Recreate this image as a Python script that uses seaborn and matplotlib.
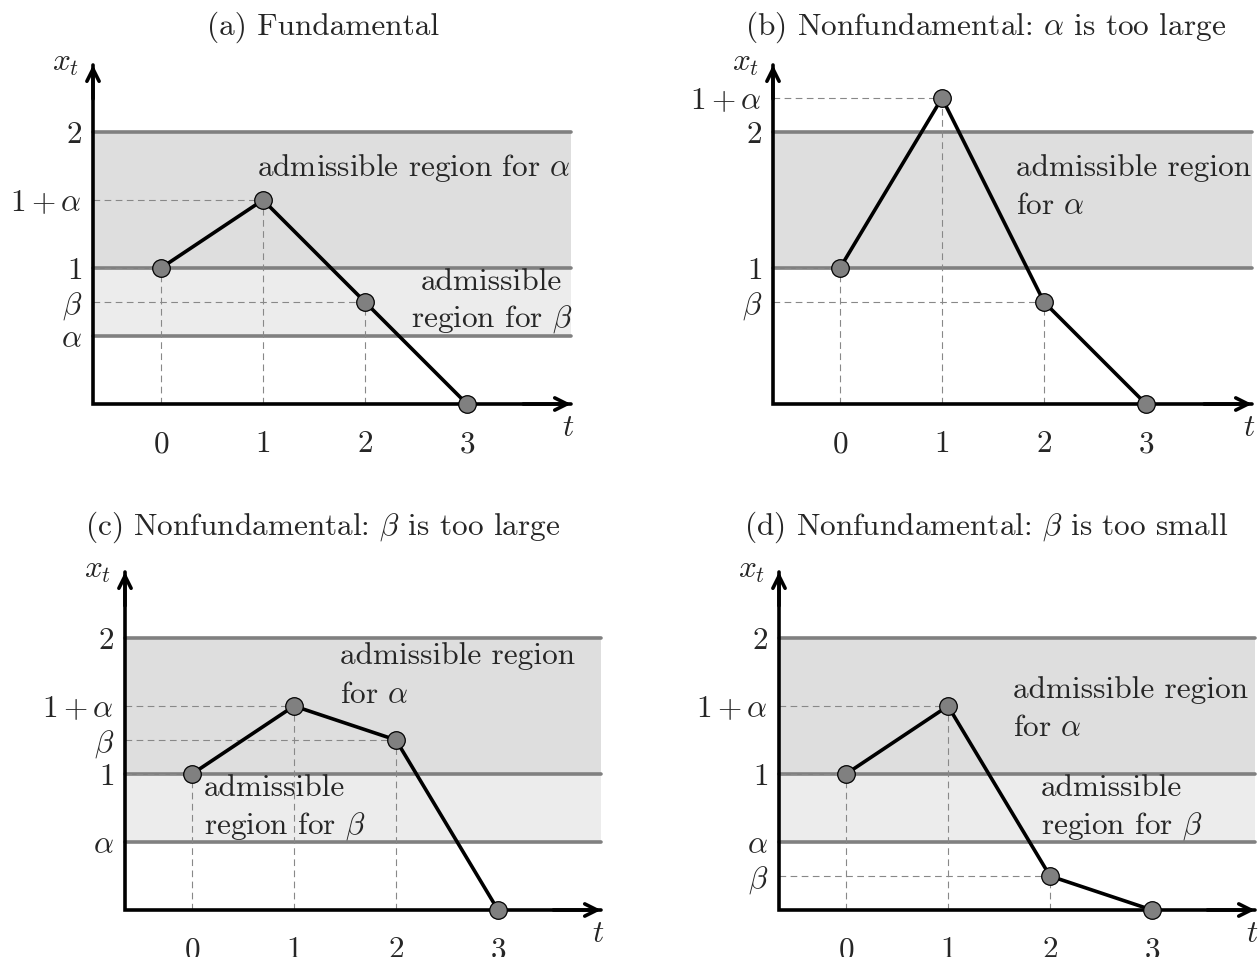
import matplotlib.pyplot as plt
import seaborn as sns

sns.set_theme(style="white")
plt.rcParams['font.family'] = 'serif'
plt.rcParams['font.serif'] = ['cmr10']
plt.rcParams['mathtext.fontset'] = 'cm'
plt.rcParams['axes.unicode_minus'] = False
plt.rcParams['axes.formatter.use_mathtext'] = True

#  Data 
t = [0, 1, 2, 3]

x_a = [1.0, 1.5, 0.75, 0.0]     # alpha = 0.5, beta = 0.75
x_b = [1.0, 2.25, 0.75, 0.0]    # alpha = 1.25, beta = 0.75
x_c = [1.0, 1.5, 1.25, 0.0]     # alpha = 0.5, beta = 1.25
x_d = [1.0, 1.5, 0.25, 0.0]     # alpha = 0.5, beta = 0.25

alphas = [0.5, 1.25, 0.5, 0.5]

yticks_a = [0.5, 0.75, 1, 1.5, 2]
ylabels_a = [r'$\alpha$', r'$\beta$', r'$1$', r'$1+\alpha$', r'$2$']
yticks_b = [0.75, 1, 2, 2.25]
ylabels_b = [r'$\beta$', r'$1$', r'$2$', r'$1+\alpha$']
yticks_c = [0.5, 1, 1.25, 1.5, 2]
ylabels_c = [r'$\alpha$', r'$1$', r'$\beta$', r'$1+\alpha$', r'$2$']
yticks_d = [0.25, 0.5, 1, 1.5, 2]
ylabels_d = [r'$\beta$', r'$\alpha$', r'$1$', r'$1+\alpha$', r'$2$']

titles = ['(a) Fundamental',
          r'(b) Nonfundamental: $\alpha$ is too large',
          r'(c) Nonfundamental: $\beta$ is too large',
          r'(d) Nonfundamental: $\beta$ is too small']

W, H = 1259, 957
FS = 22.5
DARK, LIGHT, BAND_LINE = '#dedede', '#ececec', '#808080'

fig = plt.figure(figsize=(W / 100, H / 100), dpi=100)


def make_axes(ox, oy, t0, right, top, ux=102, uy=136):
    ax = fig.add_axes([ox / W, 1 - oy / H, (right - ox) / W, (oy - top) / H])
    ax.set_xlim((ox - t0) / ux, (right - t0) / ux)
    ax.set_ylim(0, (oy - top) / uy)
    return ax


def draw_panel(ax, vals, alpha, yticks, ylabels):
    ax.set_facecolor('none')
    for s in ax.spines.values():
        s.set_visible(False)
    # admissible regions
    ax.axhspan(1, 2, color=DARK, lw=0, zorder=0)
    lines = [1, 2]
    if alpha < 1:
        ax.axhspan(alpha, 1, color=LIGHT, lw=0, zorder=0)
        lines.append(alpha)
    for y in lines:
        ax.axhline(y, color=BAND_LINE, lw=2.6, zorder=1, clip_on=False)
    # guide lines
    x0 = ax.get_xlim()[0]
    for ti, v in zip(t, vals):
        if v > 0:
            ax.plot([x0, ti], [v, v], color='#888888', lw=0.8, ls=(0, (6, 4)), zorder=2)
            ax.plot([ti, ti], [0, v], color='#888888', lw=0.8, ls=(0, (6, 4)), zorder=2)
    # axes with arrows
    ax.plot([0, 0, 1], [1, 0, 0], transform=ax.transAxes, color='black', lw=2.6,
            solid_joinstyle='miter', clip_on=False, zorder=3)
    for tip in [(1, 0), (0, 1)]:
        ax.annotate('', xy=tip, xytext=(tip[0] * 0.9, tip[1] * 0.9), xycoords='axes fraction',
                    arrowprops=dict(arrowstyle='->', lw=2.6, color='black', mutation_scale=22,
                                    shrinkA=0, shrinkB=0), zorder=3)
    ax.annotate('$t$', xy=(1, 0), xycoords='axes fraction', xytext=(-2, -17),
                textcoords='offset points', ha='center', va='center', fontsize=FS)
    ax.annotate('$x_t$', xy=(0, 1), xycoords='axes fraction', xytext=(-20, 1),
                textcoords='offset points', ha='center', va='center', fontsize=FS)
    # path
    sns.lineplot(x=t, y=vals, ax=ax, color='black', lw=2.6, zorder=4, clip_on=False)
    sns.scatterplot(x=t, y=vals, ax=ax, s=160, color='#808080', edgecolor='black',
                    linewidth=0.9, zorder=5, clip_on=False)
    ax.set_xticks(t)
    ax.set_xticklabels([f'${v}$' for v in t], fontsize=FS)
    ax.set_yticks(yticks)
    ax.set_yticklabels(ylabels, fontsize=FS)
    ax.tick_params(axis='x', length=0, pad=19)
    ax.tick_params(axis='y', length=0, pad=8)
    ax.set_xlabel('')
    ax.set_ylabel('')


ax_a = make_axes(93, 404, 161, 571, 65)
ax_b = make_axes(773, 404, 840, 1252, 65)
ax_c = make_axes(125, 910, 192, 601, 572)
ax_d = make_axes(779, 910, 846, 1255, 572)

draw_panel(ax_a, x_a, alphas[0], yticks_a, ylabels_a)
draw_panel(ax_b, x_b, alphas[1], yticks_b, ylabels_b)
draw_panel(ax_c, x_c, alphas[2], yticks_c, ylabels_c)
draw_panel(ax_d, x_d, alphas[3], yticks_d, ylabels_d)

# region labels
ax_a.text(ax_a.get_xlim()[1], 1.68, r'admissible region for $\alpha$', ha='right',
          va='baseline', fontsize=FS, zorder=6)
ax_a.text(3.24, 0.838, 'admissible', ha='center', va='baseline', fontsize=FS, zorder=6)
ax_a.text(3.24, 0.566, r'region for $\beta$', ha='center', va='baseline', fontsize=FS, zorder=6)

ax_b.text(1.73, 1.68, 'admissible region', ha='left', va='baseline', fontsize=FS, zorder=6)
ax_b.text(1.73, 1.40, r'for $\alpha$', ha='left', va='baseline', fontsize=FS, zorder=6)

ax_c.text(1.45, 1.81, 'admissible region', ha='left', va='baseline', fontsize=FS, zorder=6)
ax_c.text(1.45, 1.52, r'for $\alpha$', ha='left', va='baseline', fontsize=FS, zorder=6)
ax_c.text(0.12, 0.835, 'admissible', ha='left', va='baseline', fontsize=FS, zorder=6)
ax_c.text(0.12, 0.564, r'region for $\beta$', ha='left', va='baseline', fontsize=FS, zorder=6)

ax_d.text(1.64, 1.56, 'admissible region', ha='left', va='baseline', fontsize=FS, zorder=6)
ax_d.text(1.64, 1.28, r'for $\alpha$', ha='left', va='baseline', fontsize=FS, zorder=6)
ax_d.text(1.91, 0.835, 'admissible', ha='left', va='baseline', fontsize=FS, zorder=6)
ax_d.text(1.91, 0.564, r'region for $\beta$', ha='left', va='baseline', fontsize=FS, zorder=6)

# titles
for (cx, cy), title in zip([(323, 27), (986, 27), (323, 527), (986, 527)], titles):
    fig.text(cx / W, 1 - cy / H, title, ha='center', va='center', fontsize=FS)

fig.savefig('out.png', dpi=100)
